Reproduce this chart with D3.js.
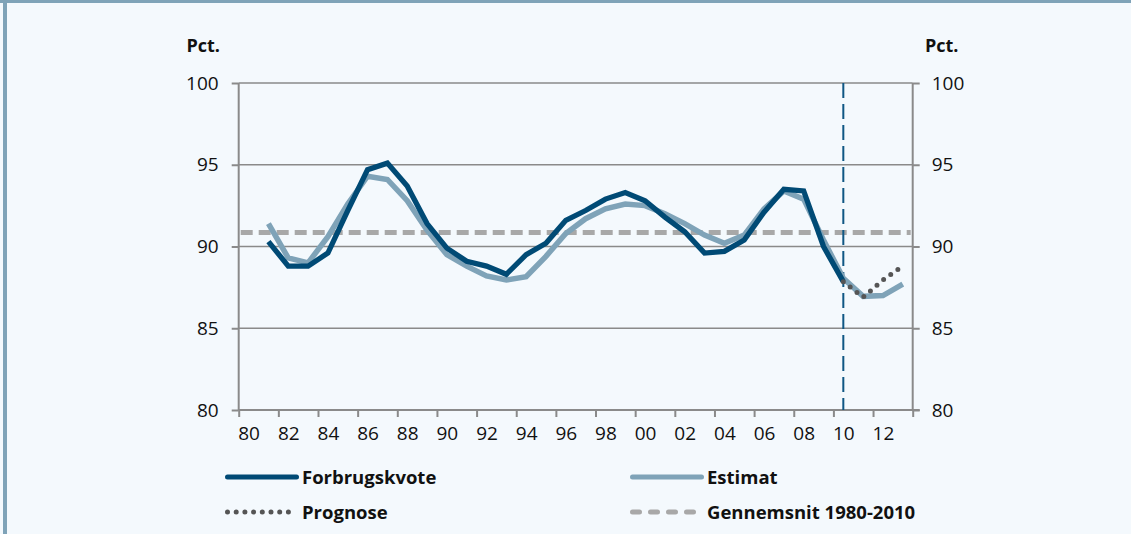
<!DOCTYPE html>
<html>
<head>
<meta charset="utf-8">
<script src="https://cdn.jsdelivr.net/npm/d3@7"></script>
<style>
  html, body { margin: 0; padding: 0; background: #F4F9FD; }
  svg { display: block; }
  text { font-family: "Open Sans", sans-serif; fill: #111; }
</style>
</head>
<body>
<svg id="chart" width="1131" height="534"></svg>
<script>
// ---- Data ----
const forbrugYears = d3.range(1981, 2011);
const forbrugskvote = [90.3, 88.8, 88.8, 89.6, 92.2, 94.7, 95.1, 93.7, 91.4, 89.9,
                       89.1, 88.8, 88.3, 89.5, 90.2, 91.6, 92.2, 92.9, 93.3, 92.8,
                       91.8, 90.9, 89.6, 89.7, 90.4, 92.1, 93.5, 93.4, 90.0, 87.85];
const estimatYears = d3.range(1981, 2014);
const estimat = [91.4, 89.3, 89.0, 90.6, 92.6, 94.3, 94.1, 92.8, 91.0, 89.5,
                 88.8, 88.2, 87.95, 88.15, 89.4, 90.8, 91.7, 92.3, 92.6, 92.5,
                 92.0, 91.4, 90.7, 90.2, 90.7, 92.3, 93.4, 92.9, 90.4, 88.05,
                 86.95, 87.0, 87.7];
const prognoseYears = [2010, 2011, 2012, 2013];
const prognose = [87.85, 86.9, 87.95, 88.8];
const gennemsnit = 90.85;
const avgSpan = [1980, 2014];
const forecastStart = 2010;
const yTicks = [80, 85, 90, 95, 100];
const xTickYears = d3.range(1980, 2015, 2);
const xLabelYears = d3.range(1980, 2013, 2);
const legendItems = ["Forbrugskvote", "Estimat", "Prognose", "Gennemsnit 1980-2010"];

(function () {
// ---- Layout ----
const svg = d3.select("#chart");
const W = 1131, H = 534;
const pL = 238.7, pR = 912.7, pT = 83, pB = 410;

svg.append("rect").attr("width", W).attr("height", H).attr("fill", "#F4F9FD");
svg.append("rect").attr("x", 0).attr("y", 0).attr("width", W).attr("height", 3).attr("fill", "#7FA3B8");
svg.append("rect").attr("x", 3).attr("y", 0).attr("width", 4).attr("height", H).attr("fill", "#7FA3B8");

const x = d3.scaleLinear().domain([1980, 2014]).range([pL, pR]);
const y = d3.scaleLinear().domain([80, 100]).range([pB, pT]);
const mid = yr => x(yr + 0.5);

const axisColor = "#8A8A8A";

// gridlines
svg.append("g").selectAll("line").data(yTicks.filter(v => v > 80)).join("line")
  .attr("x1", pL).attr("x2", pR)
  .attr("y1", d => y(d)).attr("y2", d => y(d))
  .attr("stroke", axisColor).attr("stroke-width", 1.5);

const gl = svg.append("g").attr("transform", `translate(${pL},0)`)
  .call(d3.axisLeft(y).tickValues(yTicks).tickSize(7).tickPadding(13));
const gr = svg.append("g").attr("transform", `translate(${pR},0)`)
  .call(d3.axisRight(y).tickValues(yTicks).tickSize(7).tickPadding(12));
const gb = svg.append("g").attr("transform", `translate(0,${pB})`)
  .call(d3.axisBottom(x).tickValues(xTickYears).tickSize(7).tickFormat(""));
const gbl = svg.append("g").attr("transform", `translate(${x(1980.5) - x(1980)},${pB})`)
  .call(d3.axisBottom(x).tickValues(xLabelYears).tickSize(0).tickPadding(17)
    .tickFormat(d => String(d % 100).padStart(2, "0")));
gbl.select(".domain").remove();

[gl, gr, gb].forEach(g => {
  g.selectAll(".domain").attr("stroke", axisColor).attr("stroke-width", 2);
  g.selectAll(".tick line").attr("stroke", axisColor).attr("stroke-width", 2);
});
gb.select(".domain").attr("d", `M${pL},0H${pR + 7}`);
gl.select(".domain").attr("d", `M0,${pT}V${pB}`);
gr.select(".domain").attr("d", `M0,${pT}V${pB}`);
[gl, gr, gbl].forEach(g => {
  g.selectAll(".tick text").style("font-family", "'Open Sans', sans-serif")
    .style("font-size", "19px").attr("fill", "#111");
});

svg.append("text").attr("x", 220).attr("y", 52).attr("text-anchor", "end")
  .style("font-size", "18px").style("font-weight", "bold").text("Pct.");
svg.append("text").attr("x", 925).attr("y", 52)
  .style("font-size", "18px").style("font-weight", "bold").text("Pct.");

svg.append("line")
  .attr("x1", x(avgSpan[0]) + 2).attr("x2", x(avgSpan[1]) - 2)
  .attr("y1", y(gennemsnit)).attr("y2", y(gennemsnit))
  .attr("stroke", "#A8A8A8").attr("stroke-width", 5)
  .attr("stroke-dasharray", "12 6");

svg.append("line")
  .attr("x1", mid(forecastStart)).attr("x2", mid(forecastStart))
  .attr("y1", pT).attr("y2", pB)
  .attr("stroke", "#0F5784").attr("stroke-width", 2)
  .attr("stroke-dasharray", "15 6");

const line = d3.line().x(d => mid(d[0])).y(d => y(d[1]));

svg.append("path").datum(d3.zip(estimatYears, estimat))
  .attr("d", line).attr("fill", "none")
  .attr("stroke", "#7FA3B8").attr("stroke-width", 5.5);
svg.append("path").datum(d3.zip(forbrugYears, forbrugskvote))
  .attr("d", line).attr("fill", "none")
  .attr("stroke", "#004A75").attr("stroke-width", 5.3);
svg.append("path").datum(d3.zip(prognoseYears, prognose))
  .attr("d", line).attr("fill", "none")
  .attr("stroke", "#555555").attr("stroke-width", 5).attr("stroke-linecap", "round")
  .attr("stroke-dasharray", "0 8.7");

// ---- Legend ----
const legend = svg.append("g");
const legX = [225, 630], legY = [477, 512];
const legStyles = [
  {stroke: "#004A75", dash: null, len: 69},
  {stroke: "#7FA3B8", dash: null, len: 69},
  {stroke: "#555555", dash: "0 8.7", len: 67},
  {stroke: "#A8A8A8", dash: "7 11", len: 64}
];
legendItems.forEach((name, i) => {
  const col = i % 2, row = Math.floor(i / 2);
  const lx = legX[col], ly = legY[row];
  const st = legStyles[i];
  const ln = legend.append("line")
    .attr("x1", lx + 2.5).attr("x2", lx + 2.5 + st.len)
    .attr("y1", ly).attr("y2", ly)
    .attr("stroke", st.stroke).attr("stroke-width", 5)
    .attr("stroke-linecap", "round");
  if (st.dash) ln.attr("stroke-dasharray", st.dash);
  legend.append("text").attr("x", lx + 77).attr("y", ly + 6.5)
    .style("font-size", "18.5px").style("font-weight", "bold").text(name);
});
})();
</script>
</body>
</html>
